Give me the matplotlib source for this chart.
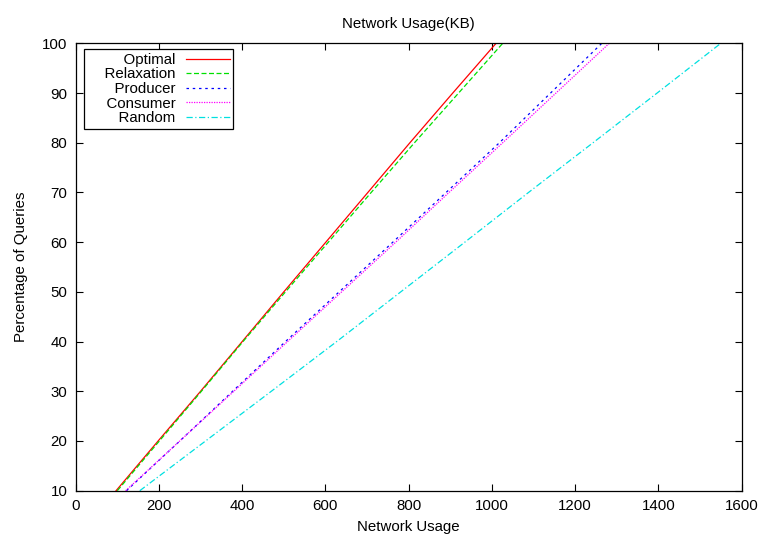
import matplotlib
matplotlib.use('Agg')
import matplotlib.pyplot as plt

# percentage of queries (y) vs network usage in KB (x)
percent = [10, 20, 30, 40, 50, 60, 70, 80, 90, 100]
optimal = [97, 198, 300, 400, 500, 601, 702, 803, 906, 1010]
relaxation = [100, 201, 302, 402, 504, 607, 710, 814, 920, 1026]
producer = [122, 250, 377, 504, 633, 762, 890, 1018, 1141, 1264]
consumer = [120, 250, 380, 509, 639, 769, 897, 1026, 1154, 1282]
random_sel = [154, 312, 470, 627, 781, 935, 1088, 1243, 1397, 1550]

labels = ['Optimal', 'Relaxation', 'Producer', 'Consumer', 'Random']

plt.rcParams['font.family'] = ['Liberation Sans', 'DejaVu Sans']
fs = 10.8

fig = plt.figure(figsize=(7.63, 5.38), dpi=100)
ax = fig.add_axes([0.0992, 0.0879, 0.8728, 0.8316])

ax.plot(optimal, percent, color='#ff0000', lw=0.9, ls='-', label=labels[0])
ax.plot(relaxation, percent, color='#00e000', lw=0.9, ls=(0, (4, 2)), label=labels[1])
ax.plot(producer, percent, color='#0000ff', lw=0.9, ls=(0, (2, 3)), label=labels[2])
ax.plot(consumer, percent, color='#ff00ff', lw=0.9, ls=(0, (1, 1)), label=labels[3])
ax.plot(random_sel, percent, color='#00e0e0', lw=0.9, ls=(0, (5, 2, 1, 2)), label=labels[4])

ax.set_xlim(0, 1600)
ax.set_ylim(10, 100)
ax.set_xticks(range(0, 1601, 200))
ax.set_yticks(range(10, 101, 10))
ax.tick_params(direction='in', top=True, right=True, length=5, width=0.8, labelsize=fs, pad=6)
for s in ax.spines.values():
    s.set_linewidth(0.9)

ax.set_title('Network Usage(KB)', fontsize=fs, pad=11)
ax.set_xlabel('Network Usage', fontsize=fs, labelpad=5)
ax.set_ylabel('Percentage of Queries', fontsize=fs, labelpad=10)

# markerfirst=False puts the text right-aligned before the line sample, as gnuplot does
handles, _ = ax.get_legend_handles_labels()
leg = ax.legend(handles, ['    ' + l for l in labels], loc='upper left',
                bbox_to_anchor=(0.013, 0.987), markerfirst=False,
                fancybox=False, framealpha=1, edgecolor='black', fontsize=fs,
                handlelength=2.9, borderpad=0.25, labelspacing=0.04,
                handletextpad=0.7, borderaxespad=0)
leg.get_frame().set_linewidth(0.9)

fig.savefig('out.png', dpi=100)
